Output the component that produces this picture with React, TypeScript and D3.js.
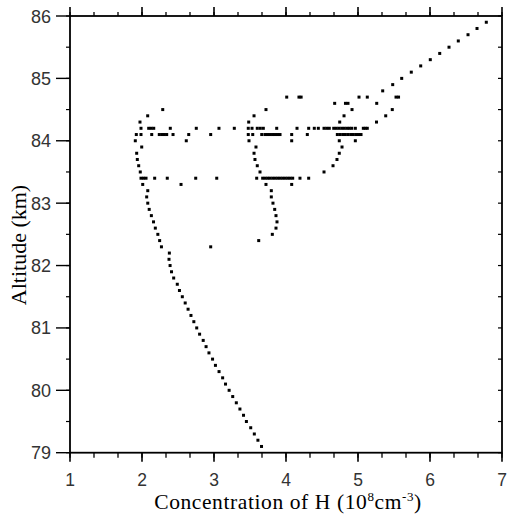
import React from "react";
import * as d3 from "d3";

// [concentration (1e8 cm^-3), altitude (km)]
const lowerProfile: [number, number][] = [
  [3.66, 79.1], [3.61, 79.2], [3.56, 79.3], [3.51, 79.4], [3.45, 79.5], [3.41, 79.6],
  [3.36, 79.7], [3.31, 79.8], [3.26, 79.9], [3.21, 80.0], [3.16, 80.1], [3.12, 80.2],
  [3.07, 80.3], [3.02, 80.4], [2.98, 80.5], [2.93, 80.6], [2.89, 80.7], [2.85, 80.8],
  [2.80, 80.9], [2.76, 81.0], [2.72, 81.1], [2.68, 81.2], [2.64, 81.3], [2.60, 81.4],
  [2.56, 81.5], [2.52, 81.6], [2.49, 81.7], [2.44, 81.8], [2.41, 81.9], [2.39, 82.0],
  [2.375, 82.1], [2.38, 82.2], [2.27, 82.3], [2.245, 82.4], [2.22, 82.5], [2.185, 82.6],
  [2.16, 82.7], [2.13, 82.8], [2.10, 82.9], [2.08, 83.0], [2.065, 83.1], [2.08, 83.2],
];

const leftLoop: [number, number][] = [
  [2.01, 83.3], [1.976, 83.5], [1.954, 83.6], [1.935, 83.7], [1.926, 83.8], [1.996, 83.9],
  [1.907, 84.0], [1.972, 84.3], [2.079, 84.4], [2.288, 84.5],
];

const scattered: [number, number][] = [
  [2.542, 83.3], [2.615, 84.0], [2.954, 82.3], [4.079, 83.3], [4.079, 84.0],
];

const middleLoop: [number, number][] = [
  [3.621, 82.4], [3.81, 82.5], [3.861, 82.6], [3.875, 82.7], [3.861, 82.8], [3.843, 82.9],
  [3.819, 83.0], [3.796, 83.1], [3.796, 83.2], [3.722, 83.3], [3.639, 83.5], [3.601, 83.6],
  [3.569, 83.7], [3.556, 83.8], [3.583, 83.9], [3.486, 84.0], [3.482, 84.3], [3.556, 84.4],
  [3.722, 84.5],
];

const rightLoop: [number, number][] = [
  [4.528, 83.5], [4.653, 83.6], [4.708, 83.7], [4.740, 83.8], [4.778, 83.9], [4.740, 84.0],
  [4.963, 84.0], [4.746, 84.3], [4.806, 84.4], [4.917, 84.5], [4.676, 84.6], [4.826, 84.6],
  [4.861, 84.6],
];

const upperDiagonal: [number, number][] = [
  [5.257, 84.3], [5.385, 84.4], [5.476, 84.5], [5.260, 84.6], [5.528, 84.7], [5.563, 84.7],
  [5.343, 84.8], [5.482, 84.9], [5.607, 85.0], [5.740, 85.1], [5.871, 85.2], [6.004, 85.3],
  [6.135, 85.4], [6.264, 85.5], [6.393, 85.6], [6.528, 85.7], [6.653, 85.8], [6.782, 85.9],
];

const level847 = [4.010, 4.18, 4.21, 5.014, 5.129];
const level842 = [
  1.986, 2.093, 2.128, 2.163, 2.393, 2.754, 3.069, 3.282, 3.476, 3.528, 3.601, 3.643,
  3.685, 3.871, 4.153, 4.315, 4.393, 4.449, 4.528, 4.565, 4.601, 4.663, 4.699, 4.736,
  4.774, 4.810, 4.847, 4.879, 4.913, 4.963, 5.074, 5.101, 5.129,
];
const level841 = [
  1.921, 1.986, 2.135, 2.240, 2.275, 2.310, 2.343, 2.431, 2.649, 2.954, 3.476, 3.538,
  3.663, 3.708, 3.743, 3.778, 3.813, 3.847, 3.882, 3.917, 4.079, 4.296, 4.713, 4.750,
  4.788, 4.824, 4.861, 4.899, 4.935, 4.972, 5.007, 5.042,
];
const level834 = [
  1.986, 2.021, 2.056, 2.176, 2.351, 2.746, 3.038, 3.593, 3.676, 3.711, 3.746, 3.778,
  3.815, 3.850, 3.885, 3.919, 3.954, 3.989, 4.024, 4.058, 4.093, 4.194, 4.315,
];

const xTicks = [1, 2, 3, 4, 5, 6, 7];
const yTicks = [79, 80, 81, 82, 83, 84, 85, 86];

export default function App() {
  const W = 509, H = 518;
  const x = d3.scaleLinear().domain([1, 7]).range([70, 502]);
  const y = d3.scaleLinear().domain([79, 86]).range([452.7, 16]);

  const points: [number, number][] = [
    ...lowerProfile, ...leftLoop, ...scattered, ...middleLoop, ...rightLoop, ...upperDiagonal,
    ...level847.map((c) => [c, 84.7] as [number, number]),
    ...level842.map((c) => [c, 84.2] as [number, number]),
    ...level841.map((c) => [c, 84.1] as [number, number]),
    ...level834.map((c) => [c, 83.4] as [number, number]),
  ];

  const xMinor = d3.range(1, 7.001, 1 / 3);
  const yMinor = d3.range(79, 86.001, 0.5);
  const tickFont = "'Liberation Sans', Arial, sans-serif";
  const serif = "'Liberation Serif', 'Times New Roman', serif";
  const [x0, x1] = x.range();
  const [y0, y1] = y.range();

  return (
    <svg width={W} height={H} style={{ position: "absolute", left: 0, top: 0, background: "#fff" }}>
      {/* bottom ticks */}
      {xMinor.map((v, i) => (
        <line key={"bm" + i} x1={x(v)} x2={x(v)} y1={y0} y2={y0 + 5} stroke="#000" strokeWidth={1.3} />
      ))}
      {xTicks.map((v) => (
        <line key={"bM" + v} x1={x(v)} x2={x(v)} y1={y0} y2={y0 + 9} stroke="#000" strokeWidth={1.6} />
      ))}
      {/* top ticks */}
      {xMinor.map((v, i) => (
        <line key={"tm" + i} x1={x(v)} x2={x(v)} y1={y1} y2={y1 - 4} stroke="#000" strokeWidth={1.3} />
      ))}
      {xTicks.map((v) => (
        <line key={"tM" + v} x1={x(v)} x2={x(v)} y1={y1} y2={y1 - 9} stroke="#000" strokeWidth={1.6} />
      ))}
      {/* left ticks */}
      {yMinor.map((v, i) => (
        <line key={"lm" + i} x1={x0} x2={x0 - 4} y1={y(v)} y2={y(v)} stroke="#000" strokeWidth={1.2} />
      ))}
      {yTicks.map((v) => (
        <line key={"lM" + v} x1={x0} x2={x0 - 14} y1={y(v)} y2={y(v)} stroke="#000" strokeWidth={1.4} />
      ))}
      {/* right ticks */}
      {yMinor.map((v, i) => (
        <line key={"rm" + i} x1={x1} x2={x1 - 4} y1={y(v)} y2={y(v)} stroke="#000" strokeWidth={1.2} />
      ))}
      {/* frame */}
      <rect x={x0} y={y1} width={x1 - x0} height={y0 - y1} fill="none" stroke="#000" strokeWidth={1.8} />

      {/* tick labels */}
      {xTicks.map((v) => (
        <text key={"xl" + v} x={x(v)} y={486} textAnchor="middle" fontFamily={tickFont} fontSize={17.5} fill="#333">
          {v}
        </text>
      ))}
      {yTicks.map((v) => (
        <text key={"yl" + v} x={51} y={y(v) + 6.5} textAnchor="end" fontFamily={tickFont} fontSize={18} fill="#333">
          {v}
        </text>
      ))}

      {/* points */}
      {points.map(([c, a], i) => (
        <rect key={"p" + i} x={x(c) - 1.5} y={y(a) - 1.5} width={3} height={3} fill="#000" />
      ))}

      {/* axis titles */}
      <text x={288} y={509} textAnchor="middle" fontFamily={serif} fontSize={21.5} letterSpacing={0.6} fill="#000">
        Concentration of H (10<tspan dy={-8} fontSize={13}>8</tspan>
        <tspan dy={8}>cm</tspan>
        <tspan dy={-8} fontSize={13}>-3</tspan>
        <tspan dy={8}>)</tspan>
      </text>
      <text
        transform={`translate(26,245) rotate(-90)`}
        textAnchor="middle"
        fontFamily={serif}
        fontSize={22}
        fill="#000"
      >
        Altitude (km)
      </text>
    </svg>
  );
}
